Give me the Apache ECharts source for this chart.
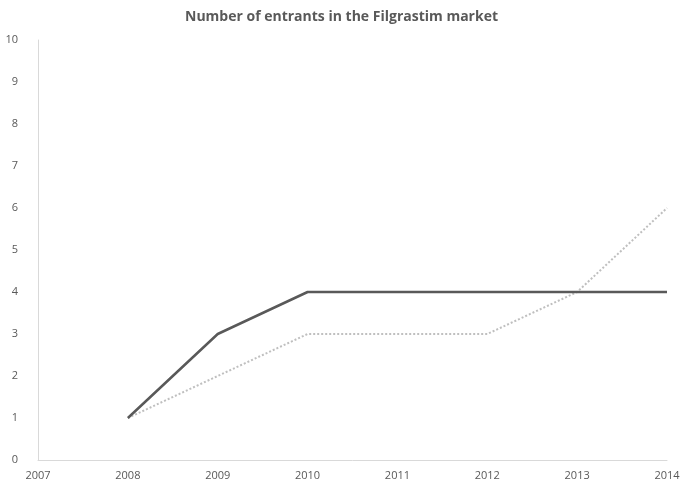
<!DOCTYPE html>
<html><head><meta charset="utf-8">
<script src="https://cdn.jsdelivr.net/npm/echarts@6/dist/echarts.min.js"></script>
<style>html,body{margin:0;padding:0;background:#fff}#c{width:683px;height:491px}</style>
</head><body><div id="c"></div>
<script>
const years = [2008, 2009, 2010, 2011, 2012, 2013, 2014];
const entrantsSolid = [1, 3, 4, 4, 4, 4, 4];
const entrantsDotted = [1, 2, 3, 3, 3, 4, 6];
const xMin = 2007, xMax = 2014;
const yMin = 0, yMax = 10;

const chart = echarts.init(document.getElementById('c'));
const font = '"Open Sans", "Noto Sans", sans-serif';
chart.setOption({
  animation: false,
  backgroundColor: '#fff',
  title: {
    text: 'Number of entrants in the Filgrastim market',
    left: 'center', top: 5,
    textStyle: { fontFamily: font, fontSize: 14, fontWeight: 'bold', color: '#595959' }
  },
  grid: { left: 38, right: 16, top: 40, bottom: 31, containLabel: false },
  xAxis: {
    type: 'value', min: xMin, max: xMax, interval: 1,
    axisLine: { show: true, lineStyle: { color: '#d9d9d9', width: 1 } },
    axisTick: { show: false },
    splitLine: { show: false },
    axisLabel: { formatter: v => String(v), color: '#595959', fontFamily: font, fontSize: 11, margin: 10 }
  },
  yAxis: {
    type: 'value', min: yMin, max: yMax, interval: 1,
    axisLine: { show: true, lineStyle: { color: '#d9d9d9', width: 1 } },
    axisTick: { show: false },
    splitLine: { show: false },
    axisLabel: { color: '#595959', fontFamily: font, fontSize: 11, margin: 20 }
  },
  series: [
    {
      type: 'line', data: years.map((y, i) => [y, entrantsDotted[i]]),
      showSymbol: false, symbol: 'none',
      lineStyle: { color: '#bfbfbf', width: 2, type: [2, 2] }
    },
    {
      type: 'line', data: years.map((y, i) => [y, entrantsSolid[i]]),
      showSymbol: false, symbol: 'none',
      lineStyle: { color: '#595959', width: 2.5 }
    }
  ]
});
</script></body></html>
